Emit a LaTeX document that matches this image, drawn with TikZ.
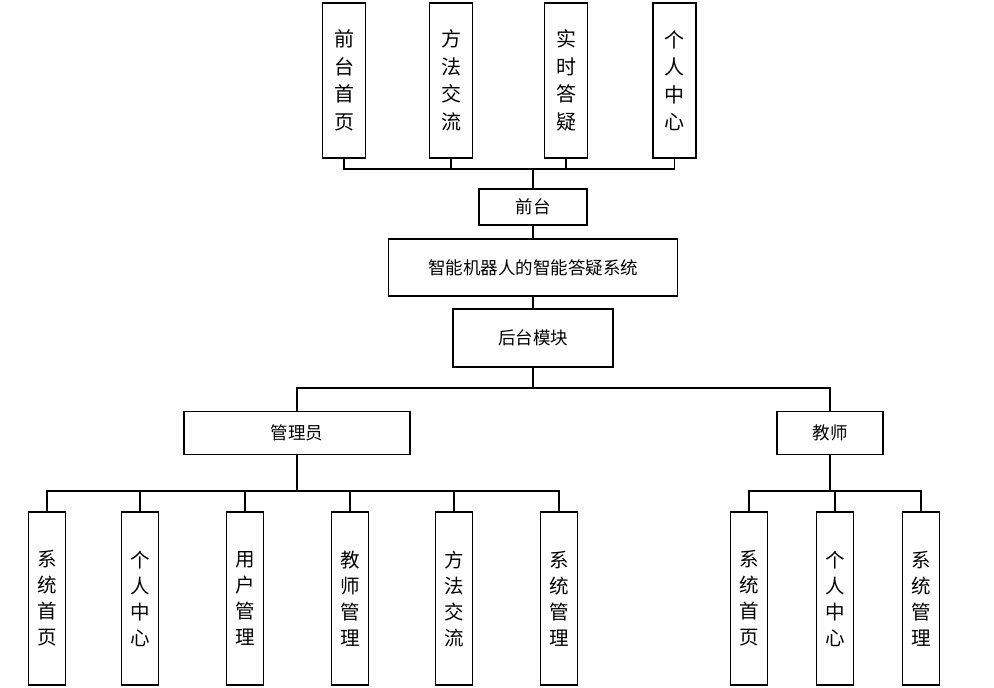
\documentclass[tikz,border=0pt]{standalone}
\usepackage{fontspec}
\newfontfamily\cjk{Noto Sans CJK SC}
\tikzset{
  box/.style={draw,line width=1.2pt,inner sep=0pt,font=\cjk\fontsize{17.5}{20}\selectfont},
  vbox/.style={draw,line width=1.2pt,inner sep=0pt,align=center,minimum width=37pt,font=\cjk\fontsize{19.5}{26}\selectfont},
  link/.style={line width=1.2pt}
}
\begin{document}
\begin{tikzpicture}[x=1pt,y=-1pt]
	\useasboundingbox (0,0) rectangle (994,688);
	% front end
	\node[vbox,minimum width=43pt,minimum height=155pt,font=\cjk\fontsize{20}{27.5}\selectfont] (qt1) at (344,80.5) {前\\台\\首\\页};
	\node[vbox,minimum width=43pt,minimum height=155pt,font=\cjk\fontsize{20}{27.5}\selectfont] (qt2) at (451,80.5) {方\\法\\交\\流};
	\node[vbox,minimum width=43pt,minimum height=155pt,font=\cjk\fontsize{20}{27.5}\selectfont] (qt3) at (566,80.5) {实\\时\\答\\疑};
	\node[vbox,minimum width=43pt,minimum height=155pt,font=\cjk\fontsize{20}{27.5}\selectfont] (qt4) at (674.5,80.5) {个\\人\\中\\心};
	\node[box,minimum width=108pt,minimum height=36pt] (qt) at (533,207) {前台};
	\node[box,minimum width=289pt,minimum height=57pt] (sys) at (533,267.5) {智能机器人的智能答疑系统};
	\node[box,minimum width=160pt,minimum height=58pt] (ht) at (533,338) {后台模块};
	% back end
	\node[box,minimum width=226pt,minimum height=43pt] (gly) at (297,433) {管理员};
	\node[box,minimum width=106pt,minimum height=43pt] (js) at (830,433) {教师};
	\node[vbox,minimum height=173pt] (g1) at (47,598.5) {系\\统\\首\\页};
	\node[vbox,minimum height=173pt] (g2) at (140,598.5) {个\\人\\中\\心};
	\node[vbox,minimum height=173pt] (g3) at (245,598.5) {用\\户\\管\\理};
	\node[vbox,minimum height=173pt] (g4) at (350,598.5) {教\\师\\管\\理};
	\node[vbox,minimum height=173pt] (g5) at (454,598.5) {方\\法\\交\\流};
	\node[vbox,minimum height=173pt] (g6) at (559,598.5) {系\\统\\管\\理};
	\node[vbox,minimum height=173pt] (j1) at (749,598.5) {系\\统\\首\\页};
	\node[vbox,minimum height=173pt] (j2) at (835,598.5) {个\\人\\中\\心};
	\node[vbox,minimum height=173pt] (j3) at (921,598.5) {系\\统\\管\\理};
	% buses
	\coordinate (busA) at (533,169);
	\coordinate (busB) at (533,388);
	\coordinate (busC) at (297,491);
	\coordinate (busD) at (830,491);
	\foreach \n in {qt1,qt2,qt3,qt4}
		\draw[link] (\n.south) |- (busA);
	\draw[link] (busA) -- (qt.north);
	\draw[link] (qt.south) -- (sys.north);
	\draw[link] (sys.south) -- (ht.north);
	\draw[link] (ht.south) -- (busB) -| (gly.north);
	\draw[link] (busB) -| (js.north);
	\draw[link] (gly.south) -- (busC);
	\foreach \n in {g1,g2,g3,g4,g5,g6}
		\draw[link] (busC) -| (\n.north);
	\draw[link] (js.south) -- (busD);
	\foreach \n in {j1,j2,j3}
		\draw[link] (busD) -| (\n.north);
\end{tikzpicture}
\end{document}
